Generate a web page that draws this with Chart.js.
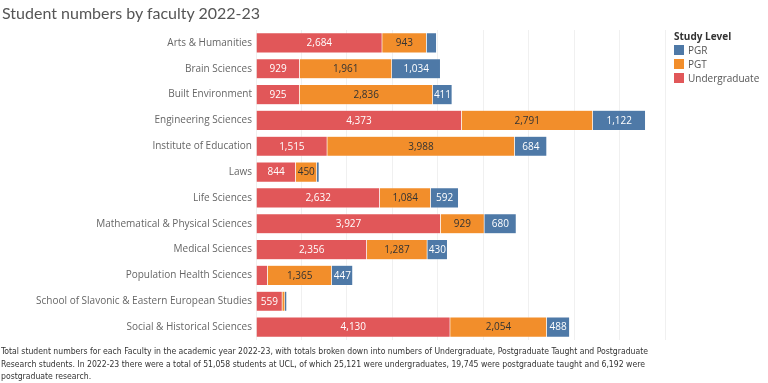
<!DOCTYPE html>
<html>
<head>
<meta charset="utf-8">
<script src="https://cdn.jsdelivr.net/npm/chart.js@4"></script>
<style>
  body { margin: 0; width: 768px; height: 383px; overflow: hidden; background: #fff; font-family: "Open Sans", sans-serif; }
  #wrap { position: absolute; left: 0; top: 0; width: 768px; height: 383px; }
  #title { position: absolute; left: 2px; top: 3px; font-family: Lato, sans-serif; font-size: 16px; color: #555; }
  #legend { position: absolute; left: 674px; top: 31px; font-size: 10px; color: #555; }
  #legend .head { font-weight: bold; color: #333; line-height: 11.5px; }
  #legend .item { display: flex; align-items: center; height: 14px; }
  #legend .sw { width: 10px; height: 10px; margin-right: 4px; }
  #note { position: absolute; left: 1px; top: 345px; font-family: "Liberation Sans Narrow", "DejaVu Sans Condensed", sans-serif; font-size: 8.6px; line-height: 12.5px; color: #333; white-space: nowrap; }
</style>
</head>
<body>
<div id="wrap"><canvas id="myChart" width="768" height="383"></canvas></div>
<div id="title">Student numbers by faculty 2022-23</div>
<div id="legend"></div>
<div id="note">Total student numbers for each Faculty in the academic year 2022-23, with totals broken down into numbers of Undergraduate, Postgraduate Taught and Postgraduate<br>Research students. In 2022-23 there were a total of 51,058 students at UCL, of which 25,121 were undergraduates, 19,745 were postgraduate taught and 6,192 were<br>postgraduate research.</div>
<script>
// faculties, top to bottom
const faculties = [
    'Arts & Humanities', 'Brain Sciences', 'Built Environment', 'Engineering Sciences',
    'Institute of Education', 'Laws', 'Life Sciences', 'Mathematical & Physical Sciences',
    'Medical Sciences', 'Population Health Sciences', 'School of Slavonic & Eastern European Studies',
    'Social & Historical Sciences'
];
const undergraduate = [2684, 929, 925, 4373, 1515, 844, 2632, 3927, 2356, 247, 559, 4130];
const pgt = [943, 1961, 2836, 2791, 3988, 450, 1084, 929, 1287, 1365, 57, 2054];
const pgr = [214, 1034, 411, 1122, 684, 50, 592, 680, 430, 447, 40, 488];

const levelNames = ['Undergraduate', 'PGT', 'PGR'];
const levelColors = ['#E15759', '#F28E2B', '#4E79A7'];
const labelColors = ['#fff', '#333', '#fff'];

// legend (reverse order, like the original)
const legend = document.getElementById('legend');
legend.innerHTML = '<div class="head">Study Level</div>' +
    [2, 1, 0].map(i => `<div class="item"><span class="sw" style="background:${levelColors[i]}"></span>${levelNames[i]}</div>`).join('');

// writes the numbers inside each bar segment when there is room
const barLabels = {
    id: 'barLabels',
    afterDatasetsDraw(chart) {
        const ctx = chart.ctx;
        ctx.save();
        ctx.font = '10px "Open Sans", sans-serif';
        ctx.textAlign = 'center';
        ctx.textBaseline = 'middle';
        chart.data.datasets.forEach((ds, di) => {
            chart.getDatasetMeta(di).data.forEach((bar, i) => {
                const txt = ds.data[i].toLocaleString('en-US');
                const w = Math.abs(bar.x - bar.base);
                if (w < ctx.measureText(txt).width + 1) return;
                ctx.fillStyle = labelColors[di];
                ctx.fillText(txt, (bar.x + bar.base) / 2, bar.y + 0.5);
            });
        });
        ctx.restore();
    }
};

const ctx = document.getElementById('myChart').getContext('2d');
const myChart = new Chart(ctx, {
    type: 'bar',
    data: {
        labels: faculties,
        datasets: [undergraduate, pgt, pgr].map((vals, i) => ({
            label: levelNames[i],
            data: vals,
            backgroundColor: levelColors[i],
            borderColor: 'rgba(255,255,255,0.6)',
            borderWidth: 0.5,
            barPercentage: 0.78,
            categoryPercentage: 1
        }))
    },
    options: {
        indexAxis: 'y',
        responsive: false,
        animation: false,
        layout: {
            padding: { left: 0, right: 103, top: 30, bottom: 43 }
        },
        scales: {
            x: {
                stacked: true,
                min: 0,
                max: 8700,
                ticks: { display: false, stepSize: 1000 },
                grid: { color: '#f0f0f0', drawTicks: false },
                border: { display: false },
                afterFit: scale => { scale.height = 0; }
            },
            y: {
                stacked: true,
                ticks: { color: '#666', font: { size: 10, family: '"Open Sans", sans-serif' }, padding: 4, autoSkip: false },
                grid: { display: false, drawTicks: false },
                border: { display: false },
                afterFit: scale => { scale.width = 256; }
            }
        },
        plugins: {
            legend: { display: false },
            tooltip: { enabled: false }
        }
    },
    plugins: [barLabels]
});
</script>
</body>
</html>
